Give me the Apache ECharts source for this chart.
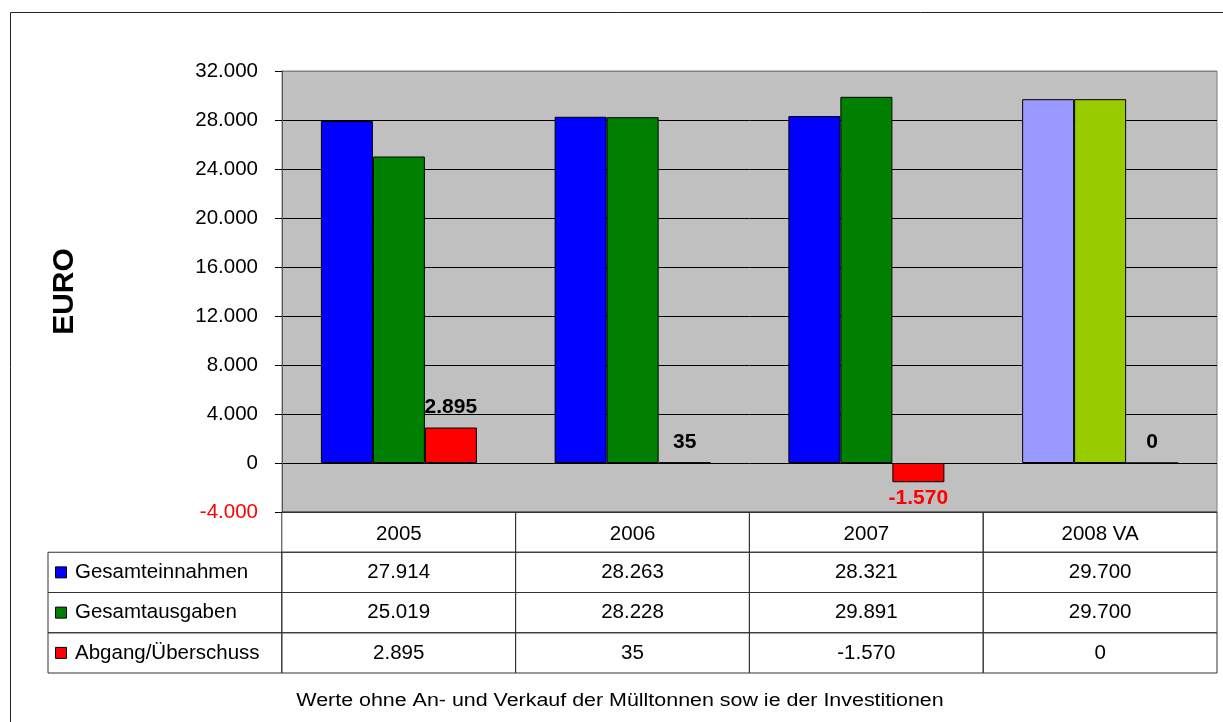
<!DOCTYPE html>
<html>
<head>
<meta charset="utf-8">
<script src="https://cdn.jsdelivr.net/npm/echarts@6/dist/echarts.min.js"></script>
<style>
  html, body { margin: 0; padding: 0; background: #fff; }
  #chart { width: 1223px; height: 722px; }
</style>
</head>
<body>
<div id="chart"></div>
<script>
// Werte aus dem Diagramm
const categories = ['2005', '2006', '2007', '2008 VA'];
const seriesNames = ['Gesamteinnahmen', 'Gesamtausgaben', 'Abgang/Überschuss'];
const einnahmen = [27914, 28263, 28321, 29700];
const ausgaben = [25019, 28228, 29891, 29700];
const saldo = [2895, 35, -1570, 0];
const yMin = -4000;
const yMax = 32000;
const yStep = 4000;
const caption = 'Werte ohne An- und Verkauf der Mülltonnen sow ie der Investitionen';

const FONT = "'Liberation Sans', Arial, sans-serif";
const seriesColors = ['#0000FF', '#008000', '#FF0000'];
// 2008 VA (Voranschlag) hat eigene Farben
const planColors = ['#9999FF', '#99CC00'];
const values = [einnahmen, ausgaben, saldo];

// deutsches Zahlenformat: 27.914
function fmt(v) {
  const s = Math.abs(v).toString().replace(/\B(?=(\d{3})+(?!\d))/g, '.');
  return (v < 0 ? '-' : '') + s;
}

const chart = echarts.init(document.getElementById('chart'), null, { renderer: 'canvas' });

const barSeries = values.map((arr, si) => ({
  name: seriesNames[si],
  type: 'bar',
  xAxisIndex: 0,
  yAxisIndex: 0,
  barWidth: 52,
  barGap: '0%',
  itemStyle: { color: seriesColors[si], borderColor: '#000', borderWidth: 1 },
  data: arr.map((v, i) => {
    const item = { value: v };
    if (i === 3 && si < 2) item.itemStyle = { color: planColors[si] };
    if (si === 2) {
      item.label = v < 0
        ? { position: 'bottom', distance: 5, color: '#FF0000' }
        : { position: 'top', distance: 10, color: '#000' };
    }
    return item;
  }),
  label: {
    show: si === 2,
    fontFamily: FONT,
    fontSize: 21,
    fontWeight: 'bold',
    formatter: (p) => fmt(p.value)
  }
}));

// Datentabelle unter dem Diagramm
const tableData = [];
for (let r = 0; r <= seriesNames.length; r++) {
  for (let c = 0; c <= categories.length; c++) {
    tableData.push([c, r]);
  }
}

const tableSeries = {
  type: 'custom',
  xAxisIndex: 1,
  yAxisIndex: 1,
  silent: true,
  data: tableData,
  renderItem: (params, api) => {
    const c = api.value(0);
    const r = api.value(1);
    const center = api.coord([c, r]);
    const size = api.size([1, 1]);
    const x0 = center[0] - size[0] / 2;
    const y0 = center[1] - size[1] / 2;
    const children = [];
    if (r === 0 && c === 0) return { type: 'group', children };
    children.push({
      type: 'rect',
      shape: { x: x0, y: y0, width: size[0], height: size[1] },
      style: { fill: 'none', stroke: '#333', lineWidth: 1 }
    });
    if (r > 0) {
      if (c === 0) {
        children.push({
          type: 'rect',
          shape: { x: x0 + 7.5, y: center[1] - 5.5, width: 11, height: 11 },
          style: { fill: seriesColors[r - 1], stroke: '#000', lineWidth: 1 }
        });
        children.push({
          type: 'text',
          style: {
            x: x0 + 27, y: center[1], text: seriesNames[r - 1],
            font: '20.5px ' + FONT, fill: '#000',
            textAlign: 'left', textVerticalAlign: 'middle'
          }
        });
      } else {
        children.push({
          type: 'text',
          style: {
            x: center[0], y: center[1], text: fmt(values[r - 1][c - 1]),
            font: '20.5px ' + FONT, fill: '#000',
            textAlign: 'center', textVerticalAlign: 'middle'
          }
        });
      }
    }
    return { type: 'group', children };
  }
};

// Farben der Gitterlinien: unten dunkel, oben grau (Rahmen), sonst schwarz
const nLines = (yMax - yMin) / yStep + 1;
const splitColors = [];
for (let i = 0; i < nLines; i++) {
  splitColors.push(i === 0 ? '#333' : (i === nLines - 1 ? '#808080' : '#000'));
}

const option = {
  animation: false,
  backgroundColor: '#fff',
  textStyle: { fontFamily: FONT },
  grid: [
    {
      left: 282, top: 71, width: 935, height: 441,
      show: true, backgroundColor: '#C0C0C0', borderColor: '#808080', borderWidth: 1
    },
    { left: 48, top: 512, width: 1169, height: 161 }
  ],
  xAxis: [
    {
      type: 'category',
      gridIndex: 0,
      data: categories,
      axisLine: { show: false, onZero: false },
      axisTick: { show: false },
      splitLine: { show: false },
      axisLabel: { margin: 12, fontSize: 20.5, color: '#000', fontFamily: FONT, lineHeight: 20 }
    },
    {
      type: 'category',
      gridIndex: 1,
      data: ['', ...categories],
      show: false
    }
  ],
  yAxis: [
    {
      type: 'value',
      gridIndex: 0,
      min: yMin,
      max: yMax,
      interval: yStep,
      name: 'EURO',
      nameLocation: 'middle',
      nameRotate: 90,
      nameGap: 202,
      nameTextStyle: { fontSize: 30, fontWeight: 'bold', color: '#000', fontFamily: FONT },
      axisLine: { show: true, lineStyle: { color: '#555', width: 1 } },
      axisTick: { show: true, length: 7, lineStyle: { color: '#000' } },
      axisLabel: {
        margin: 24,
        fontSize: 20.5,
        fontFamily: FONT,
        color: (val) => (Number(val) < 0 ? '#FF0000' : '#000'),
        formatter: (v) => fmt(v)
      },
      splitLine: { show: true, lineStyle: { color: splitColors, width: 1 } }
    },
    {
      type: 'category',
      gridIndex: 1,
      data: ['', ...seriesNames],
      inverse: true,
      show: false
    }
  ],
  series: [...barSeries, tableSeries],
  graphic: [
    {
      type: 'rect',
      silent: true,
      shape: { x: 10.5, y: 12.5, width: 1300, height: 800 },
      style: { fill: 'none', stroke: '#222', lineWidth: 1 },
      z: -10
    },
    {
      type: 'text',
      silent: true,
      x: 620,
      y: 701,
      scaleX: 1.19,
      style: {
        text: caption,
        font: '18px ' + FONT,
        fill: '#000',
        textAlign: 'center',
        textVerticalAlign: 'middle'
      }
    }
  ]
};

chart.setOption(option);
</script>
</body>
</html>
